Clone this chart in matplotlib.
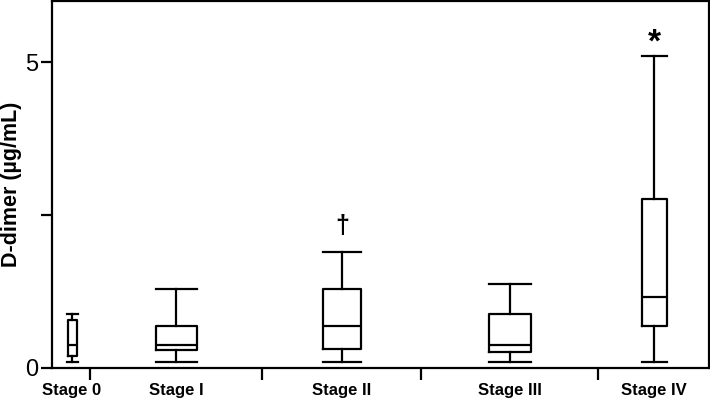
import matplotlib
matplotlib.use("Agg")
import matplotlib.pyplot as plt

categories = ["Stage 0", "Stage I", "Stage II", "Stage III", "Stage IV"]
whislo = [0.09, 0.09, 0.09, 0.09, 0.09]
q1 = [0.20, 0.29, 0.31, 0.26, 0.69]
med = [0.38, 0.38, 0.69, 0.38, 1.16]
q3 = [0.78, 0.69, 1.29, 0.89, 2.76]
whishi = [0.89, 1.29, 1.90, 1.38, 5.10]
marks = ["", "", "†", "", "*"]
mark_y = [None, None, 2.32, None, 5.31]

positions = [0.20, 1.24, 2.90, 4.58, 6.02]
widths = [0.09, 0.41, 0.38, 0.42, 0.25]
capw = [0.11, 0.41, 0.38, 0.42, 0.25]
separators = [0.38, 2.10, 3.69, 5.46]

plt.rcParams['font.family'] = ['Liberation Sans', 'DejaVu Sans']

fig = plt.figure(figsize=(7.1, 4.0), dpi=100)
ax = fig.add_axes([52/710, 32/400, 657/710, 367/400])

stats = []
for i, c in enumerate(categories):
    stats.append(dict(label=c, whislo=whislo[i], q1=q1[i], med=med[i],
                      q3=q3[i], whishi=whishi[i], fliers=[]))

lw = 1.6
ax.bxp(stats, positions=positions, widths=widths, capwidths=capw,
       showfliers=False, manage_ticks=False,
       boxprops=dict(color="black", linewidth=lw),
       medianprops=dict(color="black", linewidth=lw),
       whiskerprops=dict(color="black", linewidth=lw),
       capprops=dict(color="black", linewidth=lw))

for i, m in enumerate(marks):
    if m == "*":
        ax.text(positions[i], mark_y[i], m, ha="center", va="center",
                fontsize=24, fontweight="bold")
    elif m:
        ax.text(positions[i], mark_y[i], m, ha="center", va="center",
                fontsize=18, fontweight="bold")

ax.set_xlim(0, 6.57)
ax.set_ylim(0, 6.0)
ax.set_yticks([0, 2.5, 5])
ax.set_yticklabels(["0", "", "5"], fontsize=17)
ax.set_xticks(separators)
ax.set_xticklabels([""] * len(separators))
ax.set_xticks(positions, minor=True)
ax.set_xticklabels(categories, minor=True, fontsize=12, fontweight="bold")
ax.tick_params(axis="x", which="minor", length=0, pad=11)
ax.tick_params(axis="x", which="major", length=8.5, width=lw)
ax.tick_params(axis="y", length=8, width=lw, pad=2)
for s in ax.spines.values():
    s.set_linewidth(lw)
ax.set_ylabel("D-dimer (µg/mL)", fontsize=15.5, fontweight="bold", labelpad=2)

fig.savefig("out.png", dpi=100)
